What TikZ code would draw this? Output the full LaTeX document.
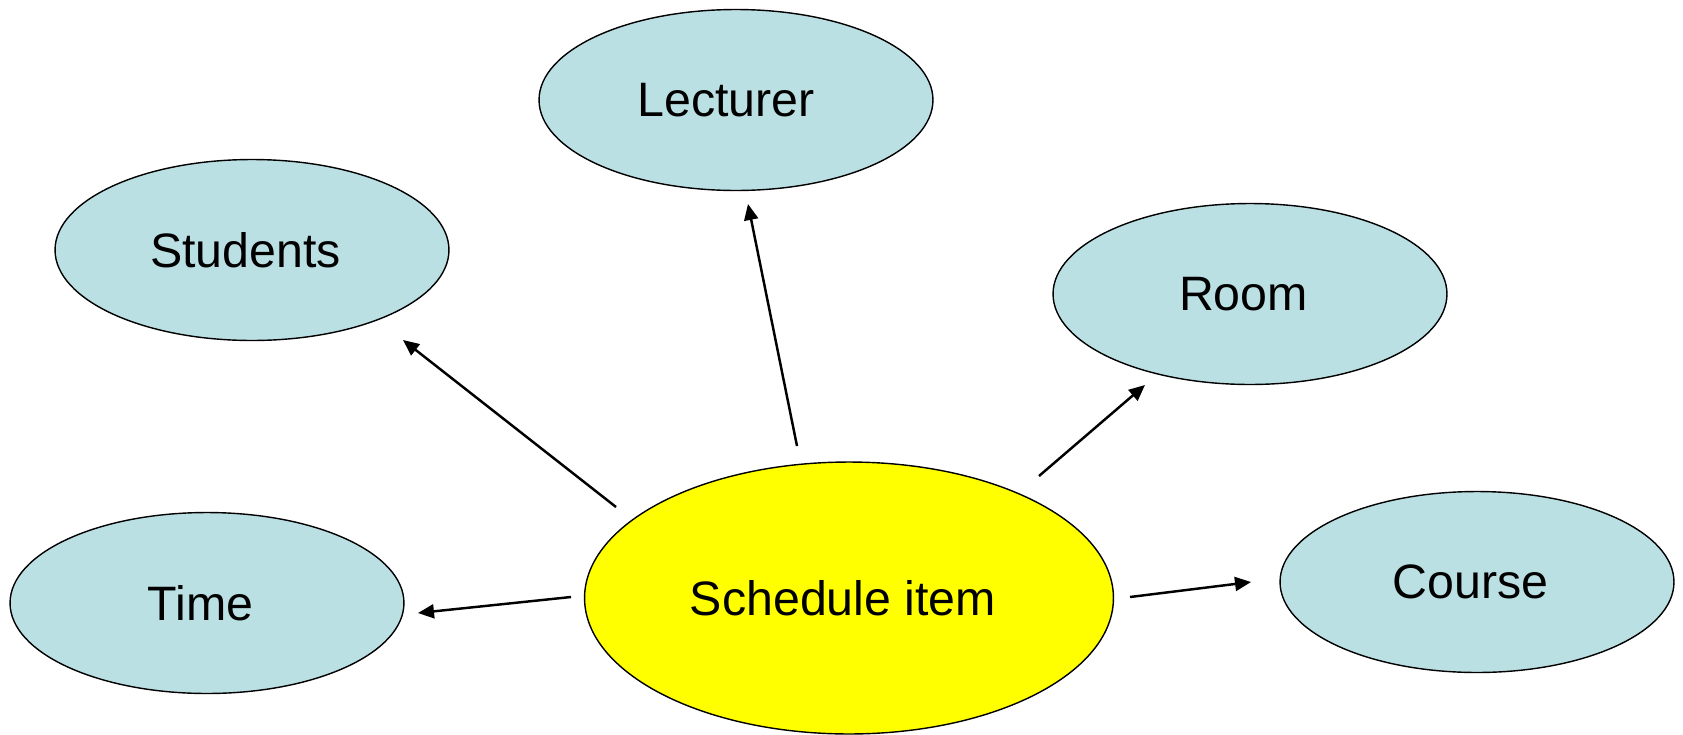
\documentclass[tikz,border=0pt]{standalone}
\usepackage{fontspec}
\setmainfont{Liberation Sans}
\usetikzlibrary{shapes.geometric,arrows.meta}
\definecolor{entityblue}{RGB}{187,224,227}
\definecolor{coreyellow}{RGB}{255,255,0}
\begin{document}
\begin{tikzpicture}[x=0.02cm,y=-0.02cm,
  lbl/.style={font=\fontsize{27.5}{33}\selectfont, text=black},
  entity/.style={ellipse, draw=black, line width=0.8pt, fill=entityblue,
    minimum width=7.88cm, minimum height=3.62cm, inner sep=0pt},
  core/.style={ellipse, draw=black, line width=0.8pt, fill=coreyellow,
    minimum width=10.58cm, minimum height=5.44cm, inner sep=0pt},
  link/.style={line width=1.4pt, -{Triangle[length=0.32cm,width=0.28cm]}}]
  \useasboundingbox (0,0) rectangle (1683,734);

  % entities
  \node[entity, label={[lbl,xshift=-0.2cm]center:Lecturer}] (lect) at (736,100) {};
  \node[entity, label={[lbl,xshift=-0.13cm]center:Students}] (stud) at (252,250) {};
  \node[entity, label={[lbl,xshift=-0.13cm]center:Room}] (room) at (1250,294) {};
  \node[entity, label={[lbl,xshift=-0.13cm]center:Time}] (time) at (207,603) {};
  \node[entity, label={[lbl,xshift=-0.13cm]center:Course}] (course) at (1477,582) {};
  \node[core, label={[lbl,xshift=-0.12cm]center:Schedule item}] (sched) at (849,598) {};

  % free ends of the links
  \coordinate (sLect) at (797,446);  \coordinate (tLect) at (748,204);
  \coordinate (sStud) at (616,507);  \coordinate (tStud) at (403,340);
  \coordinate (sRoom) at (1039,476); \coordinate (tRoom) at (1145,385);
  \coordinate (sTime) at (571,597);  \coordinate (tTime) at (418,613);
  \coordinate (sCourse) at (1130,597); \coordinate (tCourse) at (1251,582);

  \draw[link] (sLect) -- (tLect);
  \draw[link] (sStud) -- (tStud);
  \draw[link] (sRoom) -- (tRoom);
  \draw[link] (sTime) -- (tTime);
  \draw[link] (sCourse) -- (tCourse);
\end{tikzpicture}
\end{document}
